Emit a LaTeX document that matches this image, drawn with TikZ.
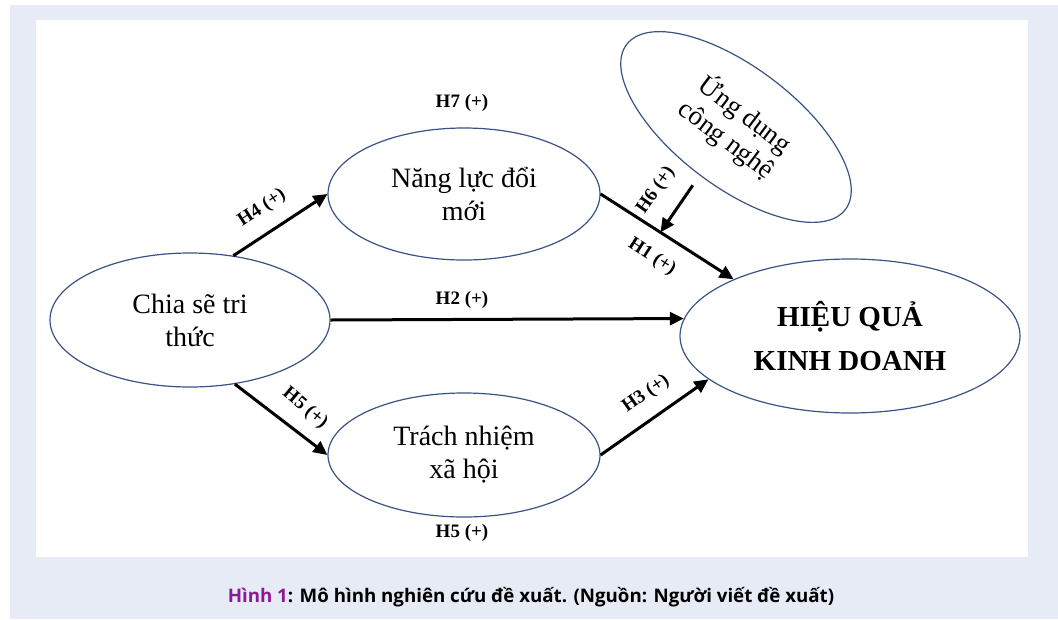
\documentclass[tikz,border=0pt]{standalone}
\usepackage{fontspec}
\setmainfont{Liberation Serif}
\newfontfamily\capfont{Open Sans}
\usetikzlibrary{shapes.geometric,arrows.meta,calc}
\definecolor{pagebg}{HTML}{E6EBF6}
\definecolor{rim}{HTML}{3A5384}
\definecolor{figpurple}{RGB}{140,25,150}
\tikzset{
  construct/.style={ellipse, draw=rim, line width=1.2pt, fill=white, inner sep=0pt,
    align=center, font=\fontsize{28}{33}\selectfont},
  link/.style={line width=3pt, -{Triangle[length=14pt,width=13pt]}},
  hyp/.style={font=\fontsize{19}{22}\selectfont\bfseries, inner sep=0pt},
}
\begin{document}
\begin{tikzpicture}[x=1pt,y=-1pt]
  % page, frame and white panel
  \useasboundingbox (0,0) rectangle (1058,619);
  \fill[white] (0,0) rectangle (1058,619);
  \fill[pagebg] (10,5) rectangle (1058,619);
  \fill[white] (36,20) rectangle (1028,557);

  % constructs
  \node[construct, minimum width=280pt, minimum height=134pt] (chia) at (190,320) {Chia sẽ tri\\thức};
  \node[construct, minimum width=272pt, minimum height=132pt] (nang) at (464,194) {Năng lực đổi\\mới};
  \node[construct, minimum width=272pt, minimum height=124pt] (trach) at (464,455) {Trách nhiệm\\xã hội};
  \node[construct, minimum width=340pt, minimum height=154pt, font=\fontsize{29}{44}\selectfont\bfseries] (hq) at (850,336) {HIỆU QUẢ\\KINH DOANH};
  \node[construct, rotate=-37, minimum width=274pt, minimum height=120pt, font=\fontsize{27}{31}\selectfont] (ung) at (736,127) {Ứng dụng\\công nghệ};

  % hypothesised paths
  \draw[link] (chia.56) -- (nang.west);
  \draw[link] (chia.east) -- (hq.174);
  \draw[link] (chia.-55) -- (trach.west);
  \draw[link] (trach.east) -- (hq.197);
  \draw[link] (nang.east) -- (hq.154);
  \coordinate (mod) at ($(nang.east)!0.45!(hq.154)$);
  \draw[link, shorten <=12pt] (ung.south) -- (mod);

  % path labels
  \node[hyp] (l7) at (462,103) {H7 (+)};
  \node[hyp] (l2) at (462,300) {H2 (+)};
  \node[hyp] (l5b) at (462,533) {H5 (+)};
  \node[hyp, rotate=33] (l4) at (262,208) {H4 (+)};
  \node[hyp, rotate=-40] (l5) at (305,408) {H5 (+)};
  \node[hyp, rotate=35] (l3) at (646,394) {H3 (+)};
  \node[hyp, rotate=-33] (l1) at (652,257) {H1 (+)};
  \node[hyp, rotate=55] (l6) at (656,190) {H6 (+)};

  % caption
  \node[font=\capfont\bfseries\fontsize{18.7}{22}\selectfont, inner sep=0pt] (cap) at (531,597)
    {\textcolor{figpurple}{Hình 1}: Mô hình nghiên cứu đề xuất. (Nguồn: Người viết đề xuất)};
\end{tikzpicture}
\end{document}
